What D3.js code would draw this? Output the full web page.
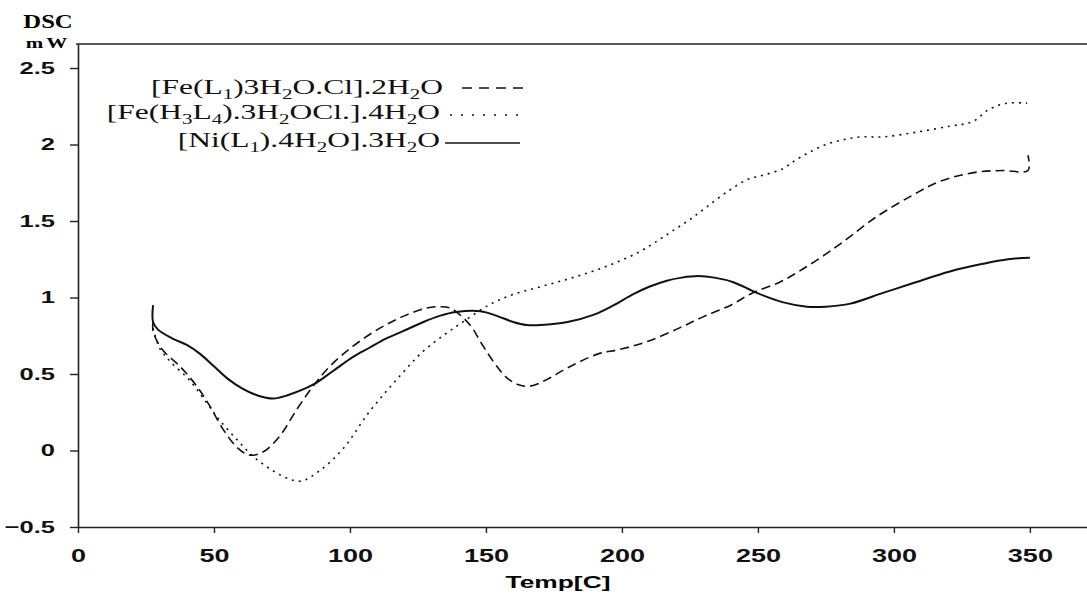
<!DOCTYPE html>
<html>
<head>
<meta charset="utf-8">
<script src="https://cdn.jsdelivr.net/npm/d3@7"></script>
<style>
    html, body { margin: 0; padding: 0; background: #fff; }
    svg { display: block; }
    .tick text { font-family: "Liberation Sans", Arial, sans-serif; font-weight: bold; fill: #111; }
    .legend text { font-family: "Liberation Serif", "Times New Roman", serif; fill: #111; }
</style>
</head>
<body>
<div id="chart"></div>
<script>
// tick labels
var xTicks = [0, 50, 100, 150, 200, 250, 300, 350];
var yTicks = [-0.5, 0, 0.5, 1, 1.5, 2, 2.5];

// legend labels, [text, isSubscript]
var labelFeL1 = [["[Fe(L", 0], ["1", 1], [")3H", 0], ["2", 1], ["O.Cl].2H", 0], ["2", 1], ["O", 0]];
var labelFeH3L4 = [["[Fe(H", 0], ["3", 1], ["L", 0], ["4", 1], [").3H", 0], ["2", 1], ["OCl.].4H", 0], ["2", 1], ["O", 0]];
var labelNiL1 = [["[Ni(L", 0], ["1", 1], [").4H", 0], ["2", 1], ["O].3H", 0], ["2", 1], ["O", 0]];

// [temp C, DSC mW]
var feL1 = [[27.6, 0.84], [27.6, 0.78], [31, 0.66], [37.5, 0.55], [43.7, 0.42], [48.5, 0.29], [53.3, 0.14],
    [58.5, 0.02], [63, -0.03], [68, -0.01], [74, 0.09], [80.5, 0.27], [86.4, 0.42], [92.6, 0.55], [101, 0.68],
    [111, 0.80], [120, 0.88], [128, 0.93], [133, 0.94], [137, 0.93], [141.5, 0.87], [145, 0.80], [148, 0.71],
    [154, 0.55], [158, 0.47], [162, 0.43], [166, 0.42], [172, 0.46], [180, 0.54], [191, 0.63], [199, 0.66],
    [209, 0.71], [221, 0.80], [230, 0.875], [240, 0.95], [248, 1.03], [258, 1.10], [265, 1.17], [273, 1.26],
    [281, 1.36], [293.8, 1.53], [307, 1.67], [317, 1.76], [330.5, 1.82], [340, 1.83], [349.3, 1.83], [349.3, 1.93]];

var feH3L4 = [[27.6, 0.80], [30, 0.67], [34, 0.58], [41, 0.46], [47.4, 0.31], [52, 0.20], [58.5, 0.07],
    [64.5, -0.04], [70.6, -0.12], [76.8, -0.18], [82, -0.20], [89, -0.13], [97.4, 0.01], [107, 0.25],
    [117, 0.46], [127, 0.65], [135, 0.76], [141.5, 0.84], [151, 0.95], [160, 1.02], [170, 1.07], [180, 1.12],
    [189, 1.17], [198, 1.23], [206.6, 1.30], [213, 1.37], [219, 1.44], [225, 1.51], [231, 1.59], [238.6, 1.69],
    [246, 1.77], [252, 1.80], [259, 1.84], [264, 1.90], [269, 1.95], [275, 2.00], [281, 2.03], [288, 2.05],
    [296, 2.05], [308, 2.08], [320.6, 2.12], [329, 2.15], [335, 2.23], [341.5, 2.27], [349, 2.27]];

var niL1 = [[27.6, 0.95], [27.6, 0.84], [29.4, 0.79], [35, 0.73], [40, 0.69], [45, 0.63], [50, 0.55],
    [55, 0.47], [60, 0.41], [66, 0.36], [71.7, 0.34], [76.8, 0.36], [86.4, 0.43], [93.8, 0.52], [101, 0.61],
    [107, 0.67], [113, 0.73], [119.5, 0.78], [127, 0.84], [133, 0.88], [139, 0.905], [148, 0.91], [154, 0.88],
    [160, 0.84], [165, 0.82], [170, 0.82], [180, 0.84], [190, 0.89], [197, 0.95], [204, 1.02], [210, 1.07],
    [216.5, 1.11], [222, 1.13], [228, 1.14], [234, 1.13], [241, 1.10], [249.6, 1.03], [259, 0.97], [268, 0.94],
    [275, 0.94], [284, 0.96], [296, 1.03], [308, 1.10], [320.6, 1.17], [332.7, 1.22], [342, 1.25], [350, 1.26]];

var width = 1087,
    height = 601,
    stretch = 1.5; // the original picture is wide, text looks pulled sideways

var svg = d3.select("#chart")
    .append("svg")
    .attr("width", width)
    .attr("height", height);

var x = d3.scaleLinear().domain([0, 371]).range([78, 1087]);
var y = d3.scaleLinear().domain([-0.5, 2.657]).range([527, 44]);

// frame top line
svg.append("line")
    .attr("x1", 76).attr("x2", width)
    .attr("y1", y(2.657)).attr("y2", y(2.657))
    .style("stroke", "#222").style("stroke-width", 1.6);

var xAxis = svg.append("g")
    .attr("transform", "translate(0," + y(-0.5) + ")")
    .call(d3.axisBottom(x).tickValues(xTicks).tickSize(6).tickSizeOuter(0).tickFormat(d3.format("")));

var yAxis = svg.append("g")
    .attr("transform", "translate(" + x(0) + ",0)")
    .call(d3.axisLeft(y).tickValues(yTicks).tickSize(8).tickSizeOuter(0).tickFormat(d3.format("")));

[xAxis, yAxis].forEach(function (g) {
    g.select(".domain").style("stroke", "#222").style("stroke-width", 1.6);
    g.selectAll(".tick line").style("stroke", "#222").style("stroke-width", 1.4);
});

xAxis.selectAll(".tick text")
    .attr("y", 35).attr("dy", 0)
    .style("font-size", "18px")
    .attr("transform", "scale(" + stretch + ",1)");

yAxis.selectAll(".tick text")
    .attr("x", 0)
    .style("font-size", "17px")
    .attr("transform", "translate(-23,0) scale(" + stretch + ",1)");

// axis titles
svg.append("text")
    .attr("transform", "translate(558,588) scale(1.55,1)")
    .attr("text-anchor", "middle")
    .style("font-family", "'Liberation Sans', Arial, sans-serif")
    .style("font-weight", "bold")
    .style("font-size", "17px")
    .text("Temp[C]");

svg.append("text")
    .attr("transform", "translate(48,28) scale(1.3,1)")
    .attr("text-anchor", "middle")
    .style("font-family", "'Liberation Serif', serif")
    .style("font-weight", "bold")
    .style("font-size", "19px")
    .text("DSC");

svg.append("text")
    .attr("transform", "translate(48,48) scale(" + stretch + ",1)")
    .attr("text-anchor", "middle")
    .style("font-family", "'Liberation Serif', serif")
    .style("font-weight", "bold")
    .style("font-size", "14px")
    .style("letter-spacing", "2px")
    .text("mW");

var line = d3.line()
    .x(function (d) { return x(d[0]); })
    .y(function (d) { return y(d[1]); })
    .curve(d3.curveCatmullRom.alpha(0.5));

var series = [
    { data: feL1, label: labelFeL1, dash: "9,5", legendDash: "10,7", width: 1.6, tx: 443, ty: 94, lx1: 462, lx2: 527, ly: 88 },
    { data: feH3L4, label: labelFeH3L4, dash: "2,5", legendDash: "2,9", width: 1.6, tx: 440, ty: 119, lx1: 450, lx2: 523, ly: 115 },
    { data: niL1, label: labelNiL1, dash: null, legendDash: null, width: 2, tx: 440, ty: 147, lx1: 445, lx2: 520, ly: 143 }
];

svg.selectAll(".curve")
    .data(series)
    .enter()
    .append("path")
    .attr("class", "curve")
    .attr("d", function (d) { return line(d.data); })
    .style("fill", "none")
    .style("stroke", "#111")
    .style("stroke-width", function (d) { return d.width; })
    .style("stroke-dasharray", function (d) { return d.dash; });

// legend
var legend = svg.append("g").attr("class", "legend");

series.forEach(function (s) {
    var t = legend.append("text")
        .attr("transform", "translate(" + s.tx + "," + s.ty + ") scale(" + stretch + ",1)")
        .attr("text-anchor", "end")
        .style("font-size", "21px");
    var shifted = false;

    s.label.forEach(function (part) {
        var sp = t.append("tspan").text(part[0]);
        if (part[1]) {
            sp.attr("dy", 5).style("font-size", "14px");
            shifted = true;
        } else if (shifted) {
            sp.attr("dy", -5);
            shifted = false;
        }
    });

    legend.append("line")
        .attr("x1", s.lx1).attr("x2", s.lx2)
        .attr("y1", s.ly).attr("y2", s.ly)
        .style("stroke", "#111")
        .style("stroke-width", s.width === 2 ? 1.5 : 1.6)
        .style("stroke-dasharray", s.legendDash);
});
</script>
</body>
</html>
